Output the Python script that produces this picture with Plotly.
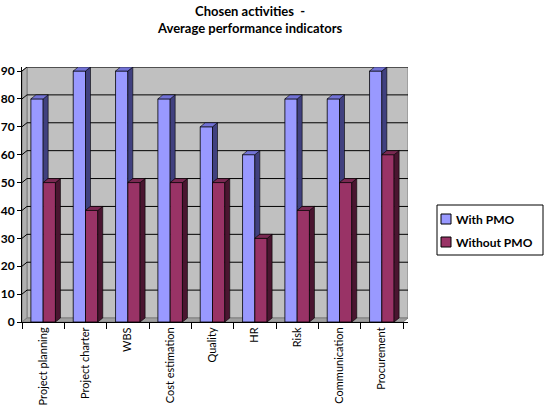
import plotly.graph_objects as go

categories = ["Project planning", "Project charter", "WBS", "Cost estimation",
              "Quality", "HR", "Risk", "Communication", "Procurement"]
with_pmo = [80, 90, 90, 80, 70, 60, 80, 80, 90]
without_pmo = [50, 40, 50, 50, 50, 30, 40, 50, 60]
y_ticks = [0, 10, 20, 30, 40, 50, 60, 70, 80, 90]
series_names = ["With PMO", "Without PMO"]

# layout geometry (pixels)
W, H = 544, 410
L, R, T, B = 22, 136, 67, 88
plot_w = W - L - R
plot_h = H - T - B
n = len(categories)
depth_px_x, depth_px_y = 5, 4
ymax = max(y_ticks)
dx = depth_px_x / (plot_w / (n + 0.12))
dy = depth_px_y * (ymax + 1.43) / plot_h

x0, x1 = -0.5, n - 0.5
bw = 0.29

fig = go.Figure()

BLUE, BLUE_TOP, BLUE_SIDE = "#9999FF", "#7373D6", "#40407F"
RED, RED_TOP, RED_SIDE = "#993366", "#7A2952", "#4A1530"

fig.add_trace(go.Bar(x=list(range(n)), y=with_pmo, width=bw, offset=-bw,
                     marker=dict(color=BLUE, line=dict(color="black", width=0.8)),
                     name=series_names[0], showlegend=False))
fig.add_trace(go.Bar(x=list(range(n)), y=without_pmo, width=bw, offset=0,
                     marker=dict(color=RED, line=dict(color="black", width=0.8)),
                     name=series_names[1], showlegend=False))


def face(xs, ys, color):
    fig.add_trace(go.Scatter(x=xs, y=ys, mode="lines", fill="toself",
                             fillcolor=color, line=dict(color="black", width=0.6),
                             showlegend=False, hoverinfo="skip"))


for i in range(n):
    b, m = with_pmo[i], without_pmo[i]
    xl, xr = i - bw, i
    face([xr, xr + dx, xr + dx, xr, xr], [m, m + dy, b + dy, b, m], BLUE_SIDE)
    face([xl, xl + dx, xr + dx, xr, xl], [b, b + dy, b + dy, b, b], BLUE_TOP)
    xl, xr = i, i + bw
    face([xr, xr + dx, xr + dx, xr, xr], [0, dy, m + dy, m, 0], RED_SIDE)
    face([xl, xl + dx, xr + dx, xr, xl], [m, m + dy, m + dy, m, m], RED_TOP)

shapes = []
shapes.append(dict(type="rect", xref="x", yref="y", x0=x0 + dx, x1=x1 + dx,
                   y0=dy, y1=ymax + dy, fillcolor="#C0C0C0",
                   line=dict(color="#808080", width=1), layer="below"))
shapes.append(dict(type="path", xref="x", yref="y",
                   path=f"M{x0},0 L{x0+dx},{dy} L{x0+dx},{ymax+dy} L{x0},{ymax} Z",
                   fillcolor="#B0B0B0", line=dict(color="#808080", width=1), layer="below"))
shapes.append(dict(type="path", xref="x", yref="y",
                   path=f"M{x0},0 L{x0+dx},{dy} L{x1+dx},{dy} L{x1},0 Z",
                   fillcolor="#A0A0A0", line=dict(color="#808080", width=1), layer="below"))
for v in y_ticks[1:]:
    shapes.append(dict(type="path", xref="x", yref="y",
                       path=f"M{x0},{v} L{x0+dx},{v+dy} L{x1+dx},{v+dy}",
                       line=dict(color="black", width=1), layer="below"))


def px_x(p):
    return (p - L) / plot_w


def px_y(p):
    return (H - B - p) / plot_h


# custom legend box
shapes.append(dict(type="rect", xref="paper", yref="paper",
                   x0=px_x(437), x1=px_x(543), y0=px_y(255), y1=px_y(205),
                   fillcolor="white", line=dict(color="black", width=1)))
annotations = []
for k, (name, col) in enumerate(zip(series_names, [BLUE, RED])):
    cy = 219 + 23 * k
    shapes.append(dict(type="rect", xref="paper", yref="paper",
                       x0=px_x(441), x1=px_x(451), y0=px_y(cy + 5), y1=px_y(cy - 5),
                       fillcolor=col, line=dict(color="black", width=1)))
    annotations.append(dict(text=f"<b>{name}</b>", xref="paper", yref="paper",
                            x=px_x(454), y=px_y(cy), xanchor="left", yanchor="middle",
                            showarrow=False,
                            font=dict(family="Lato", size=12, color="black")))

annotations.append(dict(text="<b>Chosen activities  -</b><br><b>Average performance indicators</b>",
                        xref="paper", yref="paper", x=px_x(250), y=px_y(1),
                        xanchor="center", yanchor="top", showarrow=False,
                        font=dict(family="Lato", size=13, color="black")))

fig.update_layout(
    width=W, height=H,
    margin=dict(l=L, r=R, t=T, b=B, autoexpand=False),
    paper_bgcolor="white", plot_bgcolor="white",
    font=dict(family="Lato", size=12, color="black"),
    barmode="overlay",
    shapes=shapes,
    annotations=annotations,
    showlegend=False,
    xaxis=dict(range=[x0, x1 + dx], tickvals=list(range(n)), ticktext=categories,
               tickangle=-90, ticks="", showgrid=False, zeroline=False, automargin=False,
               showline=True, linecolor="black", linewidth=1,
               tickfont=dict(family="Lato", size=11, color="black"),
               minor=dict(tickvals=[k - 0.5 for k in range(n + 1)], ticks="outside",
                          ticklen=6, tickcolor="black", showgrid=False)),
    yaxis=dict(range=[0, ymax + dy], tickvals=y_ticks, ticks="outside", ticklen=4,
               tickcolor="black", showgrid=False, zeroline=False, automargin=False,
               showline=True, linecolor="black", linewidth=1,
               tickfont=dict(family="Lato", size=12, color="black", weight="bold")),
)

fig.write_html("out.html", config={"displayModeBar": False},
               post_script="document.body.style.margin='0';document.body.style.overflow='hidden';")
